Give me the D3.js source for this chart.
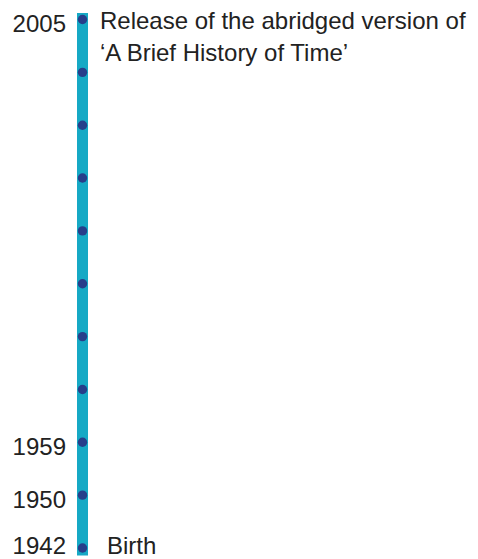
<!DOCTYPE html>
<html>
<head>
<meta charset="utf-8">
<script src="https://cdn.jsdelivr.net/npm/d3@7"></script>
<style>
  html, body { margin: 0; padding: 0; background: #ffffff; }
  svg { display: block; }
  text { font-family: "Liberation Sans", Arial, Helvetica, sans-serif; fill: #222222; }
</style>
</head>
<body>
<script>
// Timeline milestones, oldest first (bottom to top)
const milestoneIndex = [0, 1, 2, 3, 4, 5, 6, 7, 8, 9, 10];
const yearLabels = ["1942", "1950", "1959", "", "", "", "", "", "", "", "2005"];
const eventLabels = [
  ["Birth"],
  [], [], [], [], [], [], [], [], [],
  ["Release of the abridged version of", "\u2018A Brief History of Time\u2019"]
];

const W = 478, H = 559;
const svg = d3.select("body").append("svg").attr("width", W).attr("height", H);

const y = d3.scalePoint()
  .domain(milestoneIndex)
  .range([548, 19.5]);

const axisX = 82.5;

// timeline bar
svg.append("rect")
  .attr("x", axisX - 5.5)
  .attr("y", y(10) - 6.5)
  .attr("width", 11)
  .attr("height", y(0) - y(10) + 14)
  .attr("fill", "#16a9c5");

// dots
svg.selectAll("circle.dot")
  .data(milestoneIndex)
  .join("circle")
  .attr("class", "dot")
  .attr("cx", axisX)
  .attr("cy", d => y(d))
  .attr("r", 4.7)
  .attr("fill", "#273e8a");

// year labels
svg.selectAll("text.year")
  .data(milestoneIndex.filter(i => yearLabels[i] !== ""))
  .join("text")
  .attr("class", "year")
  .attr("x", 66)
  .attr("y", d => Math.min(y(d) + 12.6, H - 5))
  .attr("text-anchor", "end")
  .attr("font-size", 24)
  .text(d => yearLabels[d]);

// event labels
milestoneIndex.forEach(i => {
  const lines = eventLabels[i];
  if (!lines.length) return;
  const isBottom = i === 0;
  const t = svg.append("text")
    .attr("class", "event")
    .attr("x", isBottom ? 107 : 100)
    .attr("y", isBottom ? y(i) + 6 : y(i) + 9)
    .attr("font-size", 24);
  lines.forEach((ln, k) => {
    t.append("tspan")
      .attr("x", isBottom ? 107 : 100)
      .attr("dy", k === 0 ? 0 : 32.5)
      .text(ln);
  });
});
</script>
</body>
</html>
